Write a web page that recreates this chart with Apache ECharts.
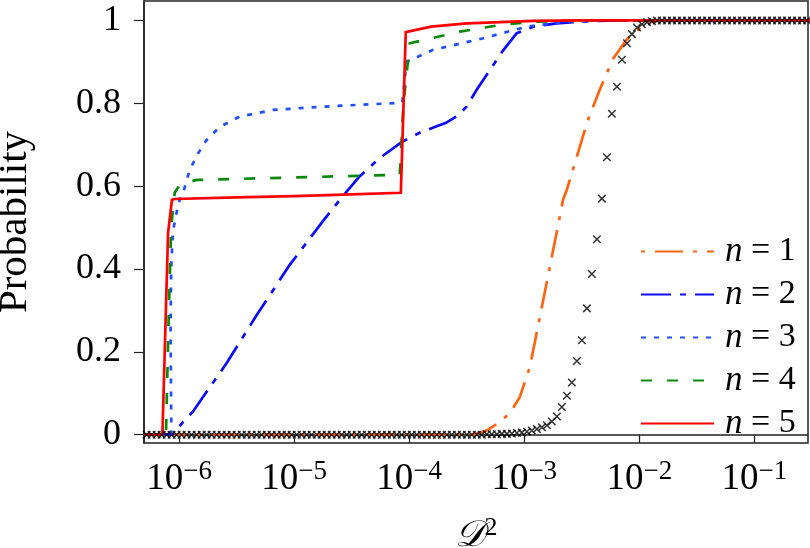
<!DOCTYPE html>
<html><head><meta charset="utf-8">
<script src="https://cdn.jsdelivr.net/npm/echarts@6/dist/echarts.min.js"></script>
<style>html,body{margin:0;padding:0;background:#fff}#c{width:810px;height:548px}</style>
</head><body><div id="c"></div>
<script>
const seriesNames = ['n = 1', 'n = 2', 'n = 3', 'n = 4', 'n = 5'];

const n1Exp  = [-6.3, -3.45, -3.328, -3.227, -3.125, -3.038, -2.951, -2.864, -2.777, -2.708, -2.663, -2.629, -2.542, -2.455, -2.342, -2.229, -2.107, -2.020, -1.933, -1.820, -0.5];
const n1Prob = [0, 0, 0.010, 0.028, 0.052, 0.091, 0.164, 0.285, 0.406, 0.503, 0.567, 0.592, 0.672, 0.753, 0.834, 0.907, 0.955, 0.975, 0.995, 1.0, 1.0];

const n2Exp  = [-6.3, -6.057, -5.970, -5.883, -5.587, -5.326, -5.039, -4.752, -4.604, -4.430, -4.256, -4.057, -3.909, -3.795, -3.680, -3.580, -3.502, -3.415, -3.299, -3.183, -3.067, -2.922, -2.719, -2.4, -2.2, -0.5];
const n2Prob = [0, 0, 0.030, 0.055, 0.173, 0.289, 0.410, 0.515, 0.567, 0.624, 0.668, 0.708, 0.729, 0.741, 0.753, 0.770, 0.792, 0.832, 0.880, 0.928, 0.969, 0.985, 0.993, 0.999, 1.0, 1.0];

const n3Exp  = [-6.3, -6.068, -6.075, -6.07, -6.055, -6.02, -5.996, -5.967, -5.909, -5.836, -5.763, -5.648, -5.474, -5.184, -4.749, -4.314, -4.082, -4.06, -4.024, -3.792, -3.357, -2.980, -2.632, -2.4, -0.5];
const n3Prob = [0, 0, 0.25, 0.40, 0.49, 0.54, 0.567, 0.583, 0.639, 0.679, 0.711, 0.743, 0.768, 0.784, 0.792, 0.798, 0.801, 0.803, 0.900, 0.929, 0.957, 0.985, 0.997, 1.0, 1.0];

const n4Exp  = [-6.3, -6.115, -6.09, -6.07, -6.039, -5.996, -5.850, -5.0, -4.169, -4.082, -4.05, -3.995, -3.560, -3.212, -2.925, -2.5, -0.5];
const n4Prob = [0, 0, 0.30, 0.50, 0.584, 0.603, 0.615, 0.621, 0.627, 0.628, 0.80, 0.945, 0.973, 0.989, 0.997, 1.0, 1.0];

const n5Exp  = [-6.3, -6.146, -6.097, -6.063, -6.04, -5.5, -5.0, -4.5, -4.073, -4.030, -3.810, -3.499, -2.925, -2.5, -0.5];
const n5Prob = [0, 0, 0.486, 0.567, 0.569, 0.573, 0.576, 0.580, 0.584, 0.972, 0.985, 0.993, 0.999, 1.0, 1.0];

// black crosses
const crossExp = [
 -6.283, -6.240, -6.196, -6.153, -6.109, -6.066, -6.022, -5.979, -5.935, -5.892, -5.848, -5.805, -5.761, -5.718, -5.674, -5.631,
 -5.587, -5.544, -5.500, -5.457, -5.413, -5.370, -5.326, -5.283, -5.239, -5.196, -5.152, -5.109, -5.065, -5.022, -4.978, -4.935,
 -4.891, -4.848, -4.804, -4.761, -4.717, -4.674, -4.630, -4.587, -4.543, -4.500, -4.456, -4.413, -4.369, -4.326, -4.282, -4.239,
 -4.195, -4.152, -4.108, -4.065, -4.021, -3.978, -3.934, -3.891, -3.847, -3.804, -3.760, -3.717, -3.673, -3.630, -3.586, -3.543,
 -3.499, -3.456, -3.412, -3.369, -3.325, -3.282, -3.238, -3.195, -3.151, -3.108, -3.064, -3.021,
 -2.977, -2.934, -2.890, -2.847, -2.803, -2.760, -2.716, -2.673, -2.629, -2.586, -2.542, -2.499, -2.455, -2.412, -2.368, -2.325,
 -2.281, -2.238, -2.194, -2.151, -2.107, -2.064, -2.020, -1.977, -1.933, -1.890, -1.846, -1.803, -1.759, -1.716, -1.672, -1.629,
 -1.585, -1.542, -1.498, -1.455, -1.411, -1.368, -1.324, -1.281, -1.237, -1.194, -1.150, -1.107, -1.063, -1.020, -0.976, -0.933,
 -0.889, -0.846, -0.802, -0.759, -0.715, -0.672, -0.628, -0.585, -0.541];
const crossProb = [
 0,0,0,0,0,0,0,0,0,0,0,0,0,0,0,0,
 0,0,0,0,0,0,0,0,0,0,0,0,0,0,0,0,
 0,0,0,0,0,0,0,0,0,0,0,0,0,0,0,0,
 0,0,0,0,0,0,0,0,0,0,0,0,0,0,0,0,
 0,0,0,0,0.001,0.001,0.001,0.002,0.002,0.003,0.004,0.005,
 0.007, 0.010, 0.014, 0.018, 0.023, 0.032, 0.044, 0.067, 0.094, 0.126, 0.178, 0.228, 0.305, 0.388, 0.472, 0.570,
 0.670, 0.775, 0.840, 0.905, 0.945, 0.967, 0.983, 0.991, 0.996, 0.998, 1,1,1,1,1,1,
 1,1,1,1,1,1,1,1,1,1,1,1,1,1,1,1,
 1,1,1,1,1,1,1,1,1];

const xTickExps = [-6, -5, -4, -3, -2, -1];
const yTicks = [0, 0.2, 0.4, 0.6, 0.8, 1];

const colors = ['#ff6410', '#0a0aff', '#1f4fff', '#0a8a0a', '#ff0000'];
const dashes = [[4, 10, 28, 10], [30, 9, 6, 9], [5, 8], [11, 15], 'solid'];

const FONT = '"Liberation Serif", "DejaVu Serif", serif';
const xMinExp = -6.306, xMaxExp = -0.533;
const pts = (ex, pr) => ex.map((e, i) => [Math.pow(10, e), pr[i]]);
const xTickVals = xTickExps.map(e => Math.pow(10, e));

const lineData = [pts(n1Exp, n1Prob), pts(n2Exp, n2Prob), pts(n3Exp, n3Prob), pts(n4Exp, n4Prob), pts(n5Exp, n5Prob)];

const series = lineData.map((d, i) => ({
  name: seriesNames[i], type: 'line', data: d, showSymbol: false, symbol: 'none',
  lineStyle: { color: colors[i], width: 2.7, type: dashes[i], cap: 'butt', join: 'miter' },
  itemStyle: { color: colors[i] }, z: 2 + i, silent: true
}));
series.push({
  name: 'cross', type: 'scatter', data: pts(crossExp, crossProb),
  symbol: 'path://M0,0L10,10M0,10L10,0', symbolSize: 7.5,
  itemStyle: { color: 'rgba(0,0,0,0)', borderColor: '#000', borderWidth: 1.5 }, z: 10, silent: true
});

const baseX = {
  type: 'log', logBase: 10, min: Math.pow(10, xMinExp), max: Math.pow(10, xMaxExp),
  splitLine: { show: false }, minorTick: { show: false }, minorSplitLine: { show: false }
};

const chart = echarts.init(document.getElementById('c'), null, { renderer: 'canvas' });
chart.setOption({
  animation: false,
  backgroundColor: '#fff',
  grid: { left: 144, right: 2, top: 1, bottom: 105, show: true, borderColor: '#222', borderWidth: 1.5,
          containLabel: false, outerBoundsMode: 'none' },
  xAxis: [
    Object.assign({}, baseX, {
      position: 'bottom',
      axisLine: { show: true, lineStyle: { color: '#222', width: 1.5 } },
      axisTick: { show: true, length: 4, lineStyle: { color: '#222', width: 1.2 }, customValues: xTickVals },
      axisLabel: {
        customValues: xTickVals, margin: 15, color: '#000', fontFamily: FONT, fontSize: 36,
        formatter: v => '{b|10}{s|\u2212' + Math.abs(Math.round(Math.log10(v))) + '}',
        rich: {
          b: { fontFamily: FONT, fontSize: 37, lineHeight: 42, color: '#000' },
          s: { fontFamily: FONT, fontSize: 27, lineHeight: 22, verticalAlign: 'top', color: '#000' }
        }
      },
      name: '{d|\uD835\uDC9F}{s|2}', nameLocation: 'middle', nameGap: 72,
      nameTextStyle: {
        rich: {
          d: { fontFamily: FONT, fontSize: 37, fontStyle: 'italic', lineHeight: 42, color: '#000' },
          s: { fontFamily: FONT, fontSize: 26, lineHeight: 24, verticalAlign: 'top', color: '#000' }
        }
      }
    }),
    Object.assign({}, baseX, {
      position: 'bottom', offset: 0,
      axisLine: { show: false },
      axisTick: { show: true, inside: true, length: 6, lineStyle: { color: '#222', width: 1.2 }, customValues: xTickVals },
      axisLabel: { show: false }
    })
  ],
  yAxis: {
    type: 'value', min: -0.02, max: 1.047,
    splitLine: { show: false },
    axisLine: { show: true, lineStyle: { color: '#222', width: 1.5 } },
    axisTick: { show: true, length: 10, lineStyle: { color: '#222', width: 1.2 }, customValues: yTicks },
    axisLabel: { customValues: yTicks, margin: 23, color: '#000', fontFamily: FONT, fontSize: 36 },
    name: 'Probability', nameLocation: 'middle', nameGap: 108,
    nameTextStyle: { fontFamily: FONT, fontSize: 41, color: '#000' }
  },
  legend: {
    data: seriesNames, orient: 'vertical', left: 635, top: 229,
    itemWidth: 73, itemHeight: 14, itemGap: 8,
    itemStyle: { opacity: 0 },
    formatter: name => '{i|n} = ' + name.split('= ')[1],
    textStyle: {
      fontFamily: FONT, fontSize: 34, color: '#000', lineHeight: 34, padding: [0, 0, 0, 6],
      rich: { i: { fontFamily: FONT, fontStyle: 'italic', fontSize: 35, color: '#000' } }
    },
    selectedMode: false
  },
  series: series
});
</script></body></html>
